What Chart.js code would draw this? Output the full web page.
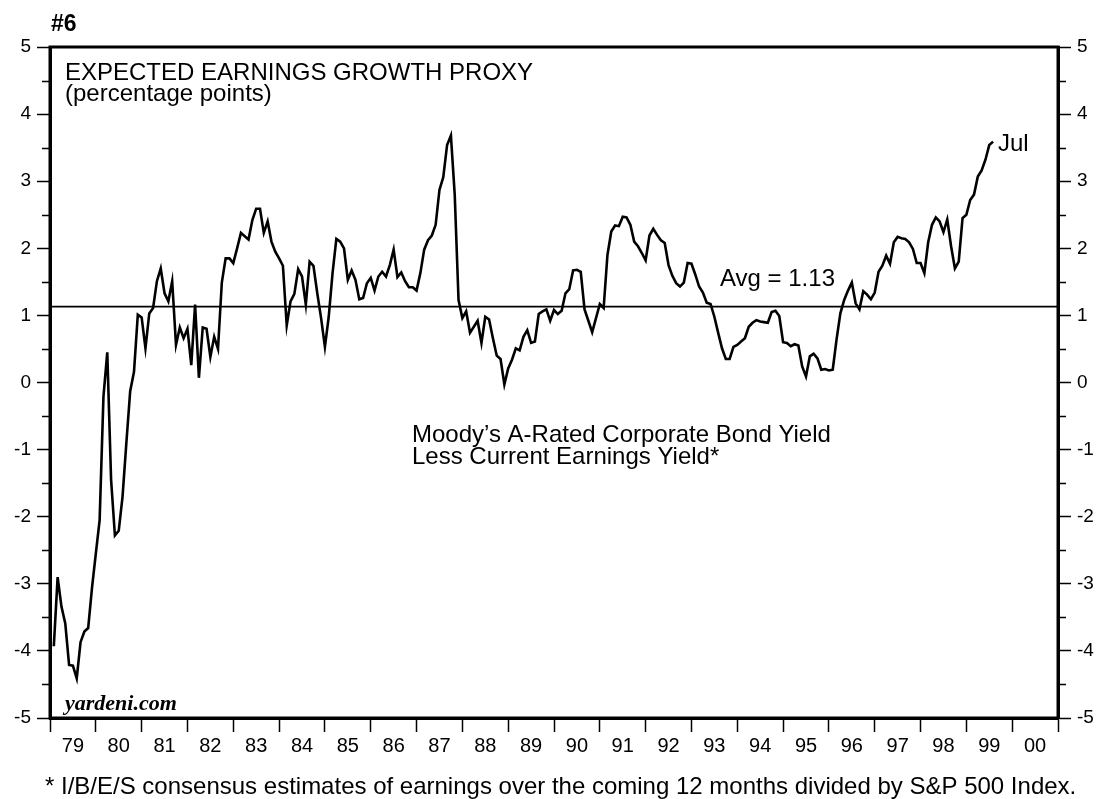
<!DOCTYPE html>
<html>
<head>
<meta charset="utf-8">
<script src="https://cdn.jsdelivr.net/npm/chart.js@4.4.1/dist/chart.umd.min.js"></script>
<style>
  html, body { margin: 0; padding: 0; background: #ffffff; }
  #wrap { width: 1100px; height: 799px; position: relative; }
</style>
</head>
<body>
<div id="wrap"><canvas id="c" width="1100" height="799"></canvas></div>
<script>
// ---- Data: monthly values (percentage points), Jan 1979 .. Jul 1999 ----
const y1979 = [-3.93, -2.90, -3.34, -3.59, -4.21, -4.22, -4.41, -3.87, -3.71, -3.66, -3.06, -2.55];
const y1980 = [-2.05, -0.21, 0.45, -1.45, -2.28, -2.21, -1.70, -0.90, -0.13, 0.16, 1.01, 0.97];
const y1981 = [0.51, 1.03, 1.11, 1.51, 1.70, 1.33, 1.21, 1.51, 0.56, 0.82, 0.66, 0.80];
const y1982 = [0.26, 1.16, 0.07, 0.82, 0.80, 0.38, 0.68, 0.50, 1.49, 1.85, 1.85, 1.78];
const y1983 = [2.00, 2.23, 2.18, 2.13, 2.42, 2.59, 2.59, 2.23, 2.40, 2.10, 1.95, 1.85];
const y1984 = [1.74, 0.85, 1.21, 1.32, 1.69, 1.58, 1.16, 1.80, 1.74, 1.33, 0.96, 0.53];
const y1985 = [0.98, 1.63, 2.14, 2.10, 2.00, 1.53, 1.67, 1.53, 1.24, 1.26, 1.48, 1.56];
const y1986 = [1.37, 1.58, 1.65, 1.58, 1.75, 1.98, 1.57, 1.64, 1.51, 1.42, 1.42, 1.37];
const y1987 = [1.63, 1.98, 2.12, 2.19, 2.35, 2.87, 3.06, 3.54, 3.68, 2.80, 1.23, 0.96];
const y1988 = [1.06, 0.74, 0.83, 0.92, 0.59, 0.98, 0.94, 0.66, 0.40, 0.35, -0.03, 0.21];
const y1989 = [0.34, 0.51, 0.48, 0.68, 0.78, 0.59, 0.61, 1.02, 1.06, 1.09, 0.92, 1.08];
const y1990 = [1.02, 1.07, 1.33, 1.39, 1.67, 1.68, 1.65, 1.09, 0.92, 0.75, 0.96, 1.17];
const y1991 = [1.11, 1.90, 2.25, 2.34, 2.33, 2.47, 2.46, 2.35, 2.10, 2.03, 1.93, 1.82];
const y1992 = [2.19, 2.29, 2.20, 2.12, 2.08, 1.75, 1.59, 1.48, 1.43, 1.49, 1.78, 1.77];
const y1993 = [1.61, 1.43, 1.34, 1.19, 1.17, 0.98, 0.74, 0.51, 0.35, 0.35, 0.53, 0.56];
const y1994 = [0.61, 0.66, 0.83, 0.89, 0.93, 0.91, 0.90, 0.89, 1.05, 1.07, 0.99, 0.60];
const y1995 = [0.59, 0.54, 0.57, 0.55, 0.24, 0.09, 0.39, 0.43, 0.36, 0.19, 0.20, 0.18];
const y1996 = [0.19, 0.64, 1.03, 1.23, 1.37, 1.49, 1.18, 1.09, 1.36, 1.31, 1.24, 1.34];
const y1997 = [1.65, 1.74, 1.89, 1.77, 2.09, 2.17, 2.15, 2.14, 2.09, 1.99, 1.78, 1.78];
const y1998 = [1.63, 2.09, 2.35, 2.46, 2.40, 2.24, 2.43, 2.03, 1.70, 1.80, 2.45, 2.50];
const y1999 = [2.72, 2.80, 3.07, 3.16, 3.32, 3.54, 3.59];

const AVG = 1.13;
const yearLabels = ['79','80','81','82','83','84','85','86','87','88','89','90','91','92','93','94','95','96','97','98','99','00'];
const yTickValues = [-5, -4, -3, -2, -1, 0, 1, 2, 3, 4, 5];
const yMinorValues = [-4.5, -3.5, -2.5, -1.5, -0.5, 0.5, 1.5, 2.5, 3.5, 4.5];

// ---- Build series (x = months since Jan 1979, plotted at month end) ----
const allValues = [].concat(y1979, y1980, y1981, y1982, y1983, y1984, y1985, y1986, y1987, y1988,
  y1989, y1990, y1991, y1992, y1993, y1994, y1995, y1996, y1997, y1998, y1999);
const seriesPts = allValues.map((v, i) => ({ x: i + 1, y: v }));
const xMax = yearLabels.length * 12;
const avgPts = [{ x: 0, y: AVG }, { x: xMax, y: AVG }];
const xTickValues = [];
for (let k = 0; k <= xMax; k += 6) xTickValues.push(k);

const FONT = "'Liberation Sans', Arial, Helvetica, sans-serif";

const decor = {
  id: 'decor',
  afterDraw(chart) {
    const { ctx, chartArea: a, scales } = chart;
    ctx.save();
    // frame
    ctx.strokeStyle = '#000';
    ctx.lineWidth = 3;
    ctx.strokeRect(a.left, a.top, a.right - a.left, a.bottom - a.top);
    // minor y ticks, both sides
    ctx.lineWidth = 1.5;
    yMinorValues.forEach(v => {
      const py = Math.round(scales.y.getPixelForValue(v)) + 0.5;
      ctx.beginPath();
      ctx.moveTo(a.left - 8, py); ctx.lineTo(a.left, py);
      ctx.moveTo(a.right, py); ctx.lineTo(a.right + 8, py);
      ctx.stroke();
    });
    ctx.fillStyle = '#000';
    ctx.textBaseline = 'alphabetic';
    ctx.textAlign = 'left';
    ctx.font = "bold 23px " + FONT;
    ctx.fillText('#6', 51, 31);
    ctx.font = "24px " + FONT;
    ctx.fillText('EXPECTED EARNINGS GROWTH PROXY', 65, 80);
    ctx.fillText('(percentage points)', 65, 101);
    ctx.fillText('Avg = 1.13', 720, 286);
    ctx.fillText('Jul', 998, 151);
    ctx.fillText('Moody\u2019s A-Rated Corporate Bond Yield', 412, 442);
    ctx.fillText('Less Current Earnings Yield*', 412, 464);
    ctx.fillText('* I/B/E/S consensus estimates of earnings over the coming 12 months divided by S&P 500 Index.', 45, 794);
    ctx.font = "italic bold 22px 'Liberation Serif', 'Times New Roman', serif";
    ctx.fillText('yardeni.com', 65, 710);
    ctx.restore();
  }
};

const yAxisCommon = (pos, w) => ({
  type: 'linear',
  position: pos,
  min: -5, max: 5,
  afterBuildTicks: s => { s.ticks = yTickValues.map(v => ({ value: v })); },
  afterFit: s => { s.width = w; },
  ticks: { color: '#000', font: { family: FONT, size: 19 }, padding: 6, autoSkip: false,
           callback: v => String(v) },
  grid: { drawOnChartArea: false, drawTicks: true, tickLength: 13, tickWidth: 1.5, tickColor: '#000' },
  border: { display: true, color: '#000', width: 3 }
});

new Chart(document.getElementById('c'), {
  type: 'line',
  data: {
    datasets: [
      { data: seriesPts, borderColor: '#000', borderWidth: 2.6, pointRadius: 0, tension: 0, fill: false },
      { data: avgPts, borderColor: '#000', borderWidth: 1.8, pointRadius: 0, tension: 0, fill: false }
    ]
  },
  options: {
    responsive: false,
    animation: false,
    devicePixelRatio: 1,
    layout: { padding: { top: 47, left: 0, right: 0, bottom: 0 } },
    plugins: { legend: { display: false }, tooltip: { enabled: false } },
    scales: {
      x: {
        type: 'linear',
        position: 'bottom',
        min: 0, max: xMax,
        afterBuildTicks: s => { s.ticks = xTickValues.map(v => ({ value: v })); },
        afterFit: s => { s.height = 81; },
        ticks: {
          color: '#000', font: { family: FONT, size: 20 }, padding: 2, autoSkip: false, maxRotation: 0,
          callback: v => (v % 12 === 6 ? yearLabels[(v - 6) / 12] : '')
        },
        grid: {
          drawOnChartArea: false, drawTicks: true, tickLength: 14, tickWidth: 1.5,
          tickColor: c => (c.tick && c.tick.value % 12 === 0 ? '#000' : 'rgba(0,0,0,0)')
        },
        border: { display: true, color: '#000', width: 3 }
      },
      y: yAxisCommon('left', 50),
      y2: yAxisCommon('right', 42)
    }
  },
  plugins: [decor]
});
</script>
</body>
</html>
